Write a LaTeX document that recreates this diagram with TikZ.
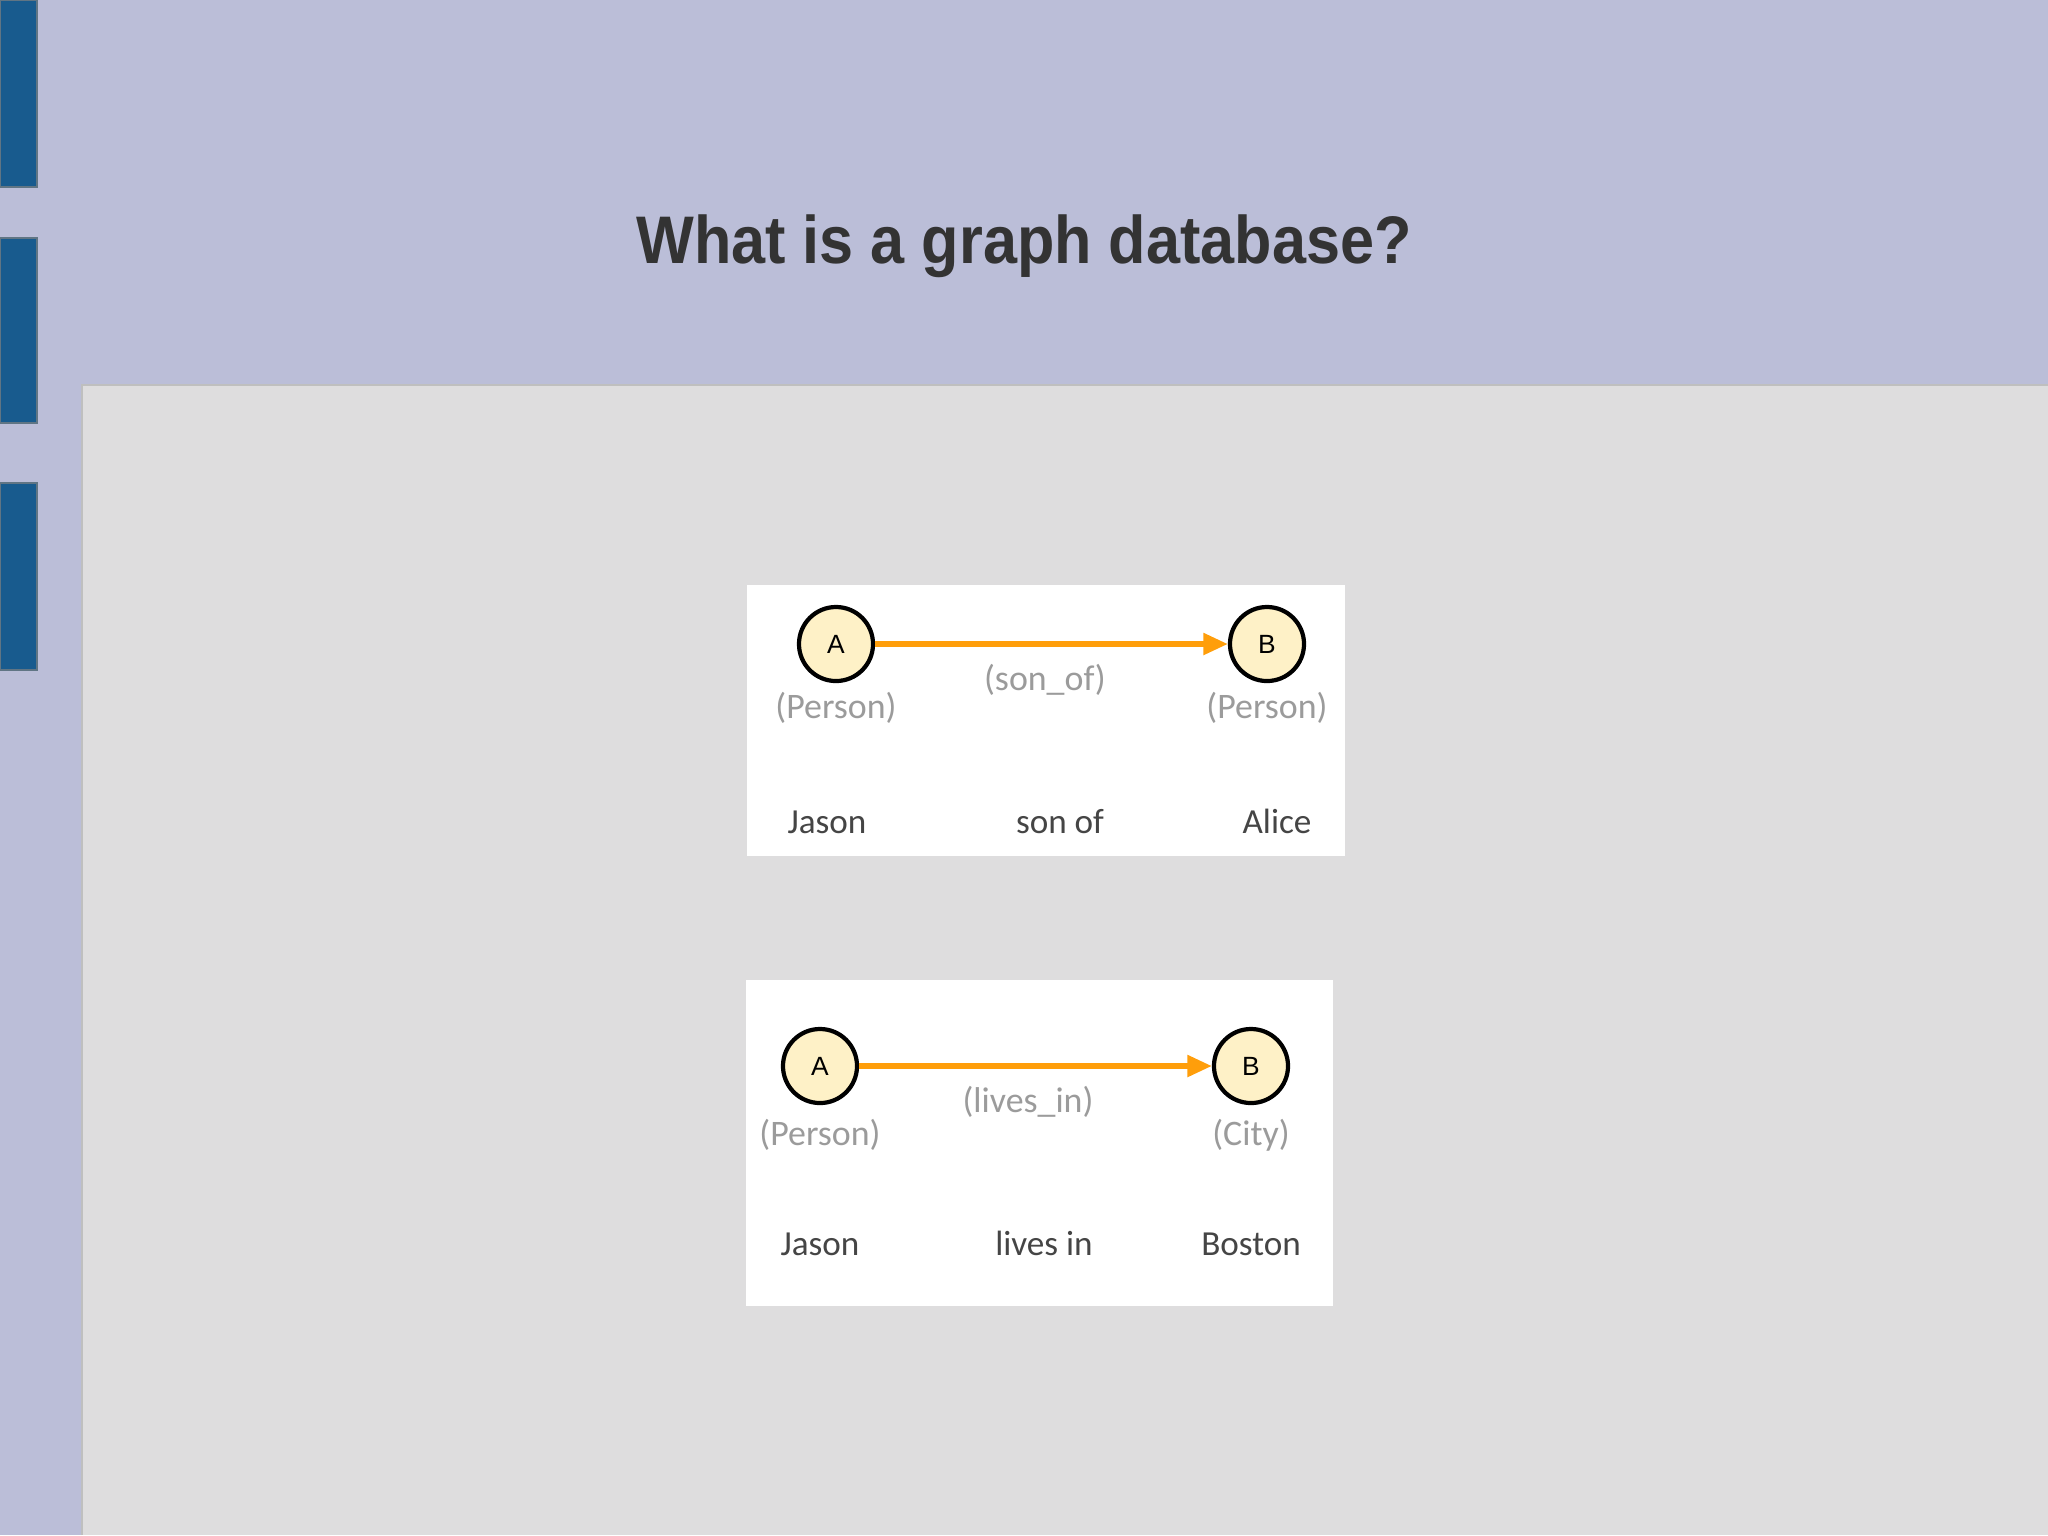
\documentclass[tikz,border=0pt]{standalone}
\usepackage{fontspec}
\setmainfont{Carlito}
\newfontfamily\headfont{Liberation Sans}
\usetikzlibrary{arrows.meta}

\definecolor{slidetop}{HTML}{BBBED8}
\definecolor{slidegray}{HTML}{DEDDDE}
\definecolor{barblue}{HTML}{185B8E}
\definecolor{nodefill}{HTML}{FEF1C7}
\definecolor{edgeorange}{HTML}{FF9E0A}
\definecolor{typegray}{HTML}{9B9B9B}
\definecolor{namegray}{HTML}{454545}

\begin{document}
\begin{tikzpicture}[x=0.01cm, y=-0.01cm,
  vertex/.style={circle, draw=black, line width=1.2pt, fill=nodefill, minimum size=0.74cm, inner sep=0pt, font=\headfont\fontsize{7.5}{9}\selectfont},
  edge/.style={edgeorange, line width=1.5pt, -{Triangle[length=7pt,width=6pt]}},
  kind/.style={text=typegray, font=\fontsize{10.2}{12}\selectfont},
  word/.style={text=namegray, anchor=base, font=\fontsize{10}{12}\selectfont}]
\useasboundingbox (0,0) rectangle (2048,1535);
% slide background
\fill[slidetop] (0,0) rectangle (2048,1535);
\fill[slidegray] (82,385) rectangle (2048,1535);
\draw[gray!50] (82,1535) -- (82,385) -- (2048,385);
\foreach \top/\bot in {0/187, 238/423, 483/670}
  \filldraw[fill=barblue, draw=gray!70!barblue] (0,\top) rectangle (37,\bot);
\node[font=\headfont\bfseries\fontsize{17.4}{22}\selectfont, text=black!80, yscale=1.1] (title) at (1024,246) {What is a graph database?};

% first panel
\fill[white] (747,585) rectangle (1345,856);
\node[vertex] (a1) at (836,644) {A};
\node[vertex] (b1) at (1267,644) {B};
\draw[edge] (a1) -- (b1);
\node[kind] (a1type) at (836,708) {(Person)};
\node[kind] (e1type) at (1045,680) {(son\_of)};
\node[kind] (b1type) at (1267,708) {(Person)};
\node[word] (a1name) at (827,833) {Jason};
\node[word] (e1name) at (1060,833) {son of};
\node[word] (b1name) at (1277,833) {Alice};

% second panel
\fill[white] (746,980) rectangle (1333,1306);
\node[vertex] (a2) at (820,1066) {A};
\node[vertex] (b2) at (1251,1066) {B};
\draw[edge] (a2) -- (b2);
\node[kind] (a2type) at (820,1135) {(Person)};
\node[kind] (e2type) at (1028,1102) {(lives\_in)};
\node[kind] (b2type) at (1251,1135) {(City)};
\node[word] (a2name) at (820,1255) {Jason};
\node[word] (e2name) at (1044,1255) {lives in};
\node[word] (b2name) at (1251,1255) {Boston};
\end{tikzpicture}
\end{document}
